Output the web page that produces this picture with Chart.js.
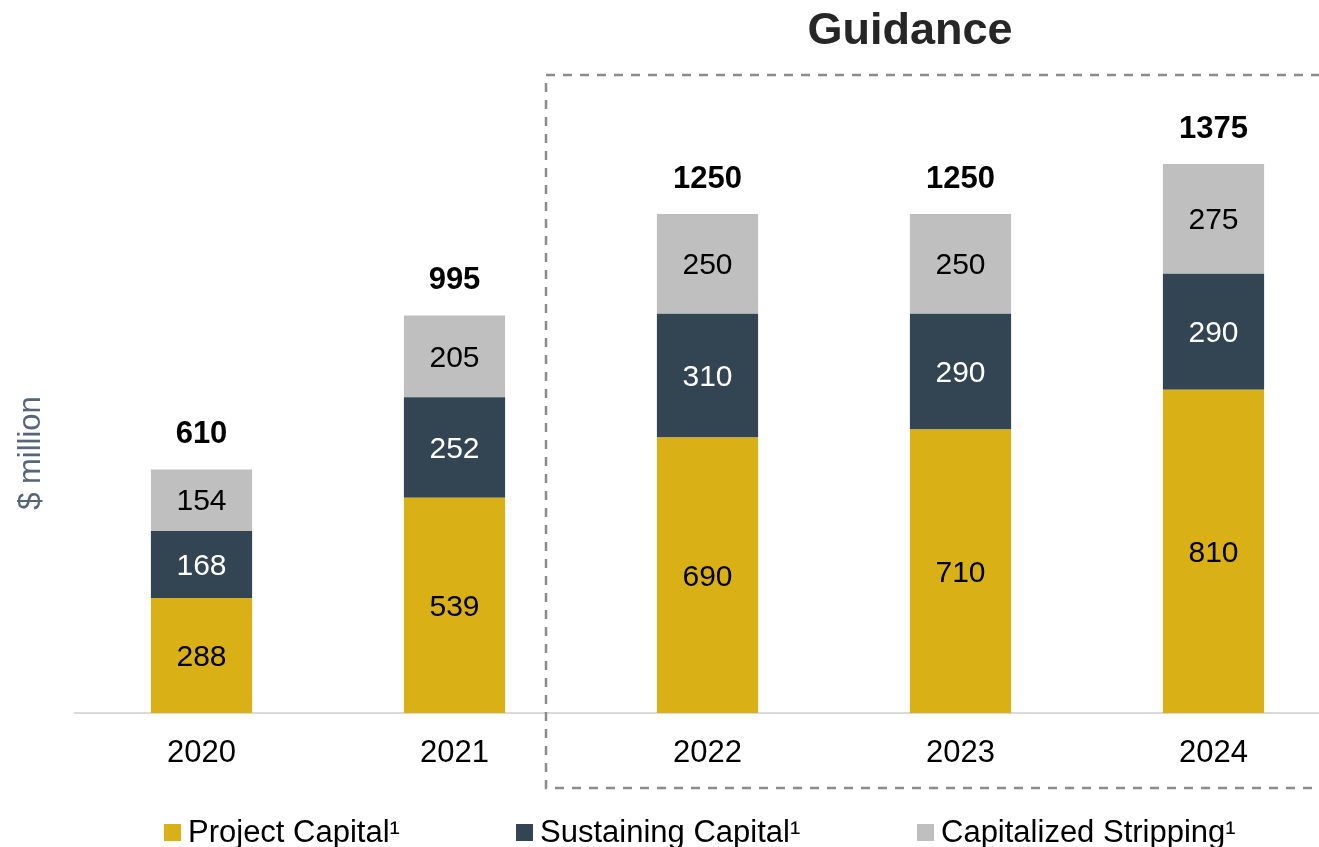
<!DOCTYPE html>
<html>
<head>
<meta charset="utf-8">
<script src="https://cdn.jsdelivr.net/npm/chart.js@4"></script>
<style>
  html, body { margin: 0; padding: 0; background: #fff; overflow: hidden; }
  #wrap { width: 1340px; height: 847px; }
</style>
</head>
<body>
<div id="wrap"><canvas id="capexChart" width="1340" height="847"></canvas></div>
<script>
'use strict'

// capital spend by year, $ million
const years = ['2020', '2021', '2022', '2023', '2024'];
const projectCapital = [288, 539, 690, 710, 810];
const sustainingCapital = [168, 252, 310, 290, 290];
const capitalizedStripping = [154, 205, 250, 250, 275];
const totals = [610, 995, 1250, 1250, 1375];

const seriesNames = ['Project Capital\u00b9', 'Sustaining Capital\u00b9', 'Capitalized Stripping\u00b9'];
const seriesColors = ['#D9B116', '#334452', '#BFBFBF'];
const labelColors = ['#000000', '#FFFFFF', '#000000'];

const FONT = '"Liberation Sans", Arial, sans-serif';

// segment values, totals, guidance box, axis title and legend
const overlay = {
    id: 'overlay',
    afterDatasetsDraw(chart) {
        const ctx = chart.ctx;
        ctx.save();

        // values inside each stacked segment
        ctx.textAlign = 'center';
        ctx.textBaseline = 'middle';
        ctx.font = '30px ' + FONT;
        chart.data.datasets.forEach((ds, i) => {
            const meta = chart.getDatasetMeta(i);
            meta.data.forEach((bar, j) => {
                ctx.fillStyle = labelColors[i];
                ctx.fillText(ds.data[j], bar.x, (bar.y + bar.base) / 2 + 2);
            });
        });

        // totals above the bars
        const top = chart.getDatasetMeta(2);
        ctx.font = 'bold 31px ' + FONT;
        ctx.fillStyle = '#000';
        top.data.forEach((bar, j) => {
            ctx.fillText(totals[j], bar.x, bar.y - 35);
        });

        // guidance box, open on the right
        const xs = chart.scales.x;
        const left = (xs.getPixelForValue(1) + xs.getPixelForValue(2)) / 2;
        ctx.strokeStyle = '#8C8C8C';
        ctx.lineWidth = 2.5;
        ctx.setLineDash([9, 8]);
        ctx.beginPath();
        ctx.moveTo(1320, 75);
        ctx.lineTo(left - 35, 75);
        ctx.lineTo(left - 35, 788);
        ctx.lineTo(1320, 788);
        ctx.stroke();
        ctx.setLineDash([]);

        ctx.font = 'bold 45px ' + FONT;
        ctx.fillStyle = '#262626';
        ctx.fillText('Guidance', 910, 32);

        // axis title
        ctx.save();
        ctx.translate(31, 453);
        ctx.rotate(-Math.PI / 2);
        ctx.font = '31px ' + FONT;
        ctx.fillStyle = '#56657A';
        ctx.fillText('$ million', 0, 0);
        ctx.restore();

        // legend
        const legendX = [164, 516, 917];
        ctx.font = '31px ' + FONT;
        ctx.textAlign = 'left';
        for (let i = 0; i < seriesNames.length; i++) {
            ctx.fillStyle = seriesColors[i];
            ctx.fillRect(legendX[i], 824, 17, 17);
            ctx.fillStyle = '#000';
            ctx.fillText(seriesNames[i], legendX[i] + 24, 833);
        }

        ctx.restore();
    }
};

new Chart(document.getElementById('capexChart'), {
    type: 'bar',
    data: {
        labels: years,
        datasets: [
            { label: seriesNames[0], data: projectCapital, backgroundColor: seriesColors[0] },
            { label: seriesNames[1], data: sustainingCapital, backgroundColor: seriesColors[1] },
            { label: seriesNames[2], data: capitalizedStripping, backgroundColor: seriesColors[2] }
        ]
    },
    options: {
        responsive: false,
        animation: false,
        layout: { padding: { left: 75, right: 0, top: 0, bottom: 0 } },
        datasets: {
            bar: { barPercentage: 0.4, categoryPercentage: 1.0 }
        },
        plugins: {
            legend: { display: false },
            tooltip: { enabled: false }
        },
        scales: {
            x: {
                stacked: true,
                grid: { display: false, drawTicks: false },
                border: { display: true, color: '#D9D9D9', width: 2 },
                ticks: {
                    color: '#000',
                    font: { family: FONT, size: 31 },
                    padding: 22
                },
                afterFit(scale) { scale.height = 134; }
            },
            y: {
                stacked: true,
                display: false,
                min: 0,
                max: 1786
            }
        }
    },
    plugins: [overlay]
});
</script>
</body>
</html>
